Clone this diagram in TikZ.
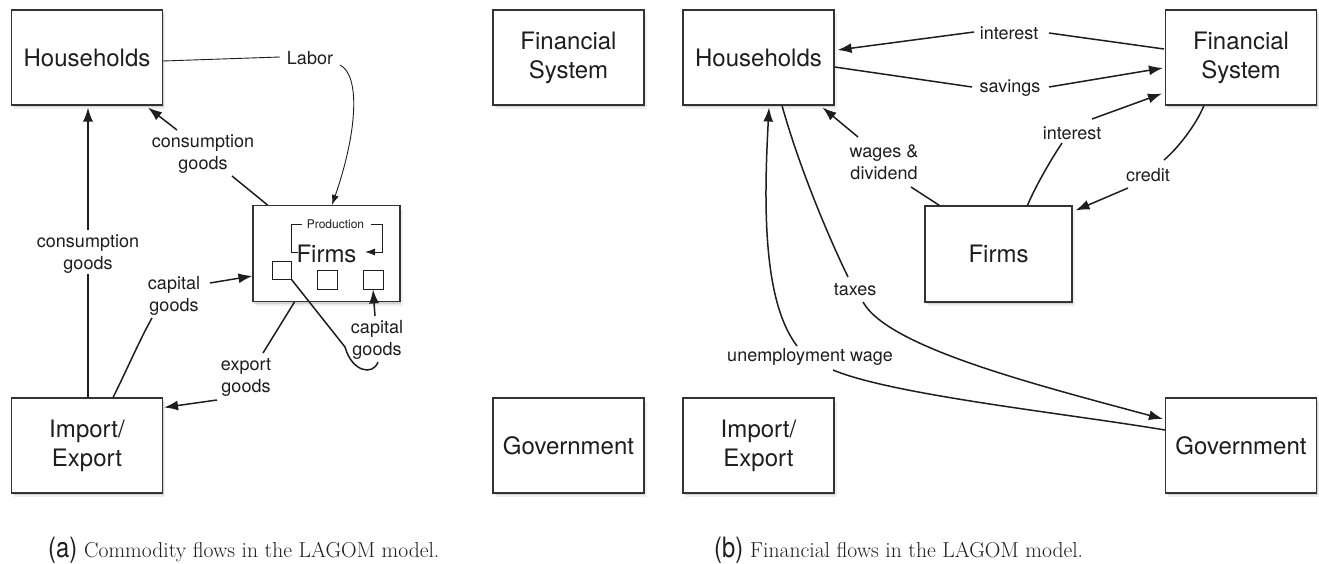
\documentclass[tikz,border=0pt]{standalone}
\usepackage{fontspec}
\newfontfamily\heros{TeX Gyre Heros}
\usetikzlibrary{arrows.meta,calc,shadows}
\definecolor{ink}{HTML}{1E1E1E}
\definecolor{edge}{HTML}{333333}
\tikzset{
  box/.style={draw=edge, line width=1.1pt, fill=white, minimum width=151pt, minimum height=95pt,
    inner sep=0pt, align=center, text=ink, font=\heros\fontsize{24}{29}\selectfont,
    drop shadow={shadow xshift=2.5pt, shadow yshift=-4pt, opacity=0.12},
    drop shadow={shadow xshift=1.2pt, shadow yshift=-2.2pt, opacity=0.25}},
  fbox/.style={box, minimum width=147pt, minimum height=96pt},
  lbl/.style={font=\heros\fontsize{18}{22}\selectfont, align=center, text=ink, inner sep=0pt},
  sq/.style={draw=ink, line width=0.9pt, fill=white, minimum width=19pt, minimum height=18pt, inner sep=0pt},
  wire/.style={draw=ink, line width=1.5pt},
  arr/.style={wire, -{Latex[length=14pt,width=10pt]}},
  thinwire/.style={draw=ink, line width=0.9pt},
  thinarr/.style={thinwire, -{Latex[length=10pt,width=7pt]}},
  capl/.style={anchor=base west, font=\heros\fontsize{28}{30}\selectfont, xscale=0.85, text=ink, inner sep=0pt},
  capt/.style={anchor=base west, font=\fontsize{21.6}{25}\selectfont, text=ink, inner sep=0pt}
}
\begin{document}
\begin{tikzpicture}[x=1pt,y=-1pt]
\useasboundingbox (0,0) rectangle (1319,564);
\fill[white] (0,0) rectangle (1319,564);

% ---------------- panel (a) ----------------
\node[box] (hhA) at (87,57.5) {Households};
\node[box] (fsA) at (568.5,57.5) {Financial\\System};
\node[box] (ieA) at (87,445.5) {Import/\\Export};
\node[box] (govA) at (568.5,445.5) {Government};
\node[fbox] (firmsA) at (326.5,253.5) {Firms};
\node[sq] (sq1) at (281.5,270) {};
\node[sq, minimum width=20pt, minimum height=19pt] (sq2) at (327,279.5) {};
\node[sq, minimum width=20pt, minimum height=19pt] (sq3) at (373,279.5) {};
\node[font=\heros\fontsize{12}{14}\selectfont, text=ink, inner sep=0pt] (prod) at (335.5,224) {Production};

\node[lbl] (labor) at (310,58) {Labor};
\node[lbl] (cg1) at (203,154) {consumption\\goods};
\node[lbl] (cg2) at (88,254) {consumption\\goods};
\node[lbl] (capg1) at (174,296) {capital\\goods};
\node[lbl] (expg) at (246,377) {export\\goods};
\node[lbl] (capg2) at (377,340) {capital\\goods};

% Labor
\draw[thinwire] ($(hhA.east)+(0,3.5)$) -- ($(labor)+(-30,-1)$);
\draw[thinarr] ($(labor)+(30,7)$) .. controls ($(labor)+(50,17)$) and ($(labor)+(48,72)$) .. ($(firmsA.north)+(5.5,0)$);
% consumption goods firms -> households
\draw[wire] ($(firmsA.north west)+(15,0)$) -- ($(cg1)+(29,22)$);
\draw[arr] ($(cg1)+(-26,-24)$) -- ($(hhA.south east)+(-15,2)$);
% consumption goods import -> households
\draw[wire] ($(ieA.north)+(1,0)$) -- ($(cg2)+(0,20)$);
\draw[arr] ($(cg2)+(0,-24)$) -- ($(hhA.south)+(1,2)$);
% capital goods import -> firms
\draw[wire] ($(ieA.north)+(26,0)$) .. controls ($(capg1)+(-51,82)$) and ($(capg1)+(-32,39)$) .. ($(capg1)+(-22,22)$);
\draw[arr] ($(capg1)+(36,-13)$) -- ($(firmsA.north west)+(0,71)$);
% export goods
\draw[wire] ($(firmsA.south west)+(42,0)$) -- ($(expg)+(17,-24)$);
\draw[arr] ($(expg)+(-29,23)$) -- ($(ieA.north east)+(1,10)$);
% capital goods inside firms
\draw[wire] (sq1.south east) -- ($(capg2)+(-32,7)$) .. controls ($(capg2)+(-25,32)$) and ($(capg2)+(-4,36)$) .. ($(capg2)+(1,22)$);
\draw[arr] ($(capg2)+(-2,-24)$) -- (sq3.south);
% production loop
\draw[thinwire] ($(prod)+(-37.5,28)$) -- ($(prod)+(-44.5,28)$) |- ($(prod)+(-33.5,0)$);
\draw[thinarr] ($(prod)+(35.5,0)$) -| ($(prod)+(46.5,28)$) -- ($(prod)+(29.5,28)$);

% ---------------- panel (b) ----------------
\node[box] (hhB) at (758.5,57.5) {Households};
\node[box] (fsB) at (1241,57.5) {Financial\\System};
\node[fbox] (firmsB) at (998.5,254) {Firms};
\node[box] (ieB) at (758.5,445.5) {Import/\\Export};
\node[box] (govB) at (1241,445.5) {Government};

\node[lbl] (intB1) at (1009,33) {interest};
\node[lbl] (savB) at (1010,88) {savings};
\node[lbl] (intB2) at (1072,133) {interest};
\node[lbl] (credB) at (1148,175) {credit};
\node[lbl] (wdB) at (884,162) {wages \&\\dividend};
\node[lbl] (taxB) at (855,290) {taxes};
\node[lbl] (uwB) at (810,357) {unemployment wage};

% interest FS -> households
\draw[wire] ($(fsB.west)+(-1,-8.5)$) -- ($(intB1)+(40,0)$);
\draw[arr] ($(intB1)+(-35,-1)$) -- ($(hhB.east)+(3,-7.5)$);
% savings
\draw[wire] ($(hhB.east)+(0,9.5)$) -- ($(savB)+(-38,-1)$);
\draw[arr] ($(savB)+(39,-1)$) -- ($(fsB.west)+(-2,10.5)$);
% interest firms -> FS
\draw[wire] ($(firmsB.north west)+(103,0)$) .. controls ($(intB2)+(-36,52)$) and ($(intB2)+(-20,25)$) .. ($(intB2)+(-10,10)$);
\draw[arr] ($(intB2)+(20,-14)$) -- ($(fsB.south west)+(-3,-12)$);
% credit
\draw[wire] ($(fsB.south west)+(39,0)$) .. controls ($(credB)+(48,-50)$) and ($(credB)+(30,-27)$) .. ($(credB)+(16,-15)$);
\draw[arr] ($(credB)+(-20,13)$) -- ($(firmsB.north east)+(3,5)$);
% wages & dividend
\draw[wire] ($(firmsB.north west)+(15,0)$) -- ($(wdB)+(27,25)$);
\draw[arr] ($(wdB)+(-26,-25)$) -- ($(hhB.south east)+(-12,2)$);
% taxes
\draw[wire] ($(hhB.south)+(23.5,0)$) .. controls ($(taxB)+(-55,-120)$) and ($(taxB)+(-25,-50)$) .. ($(taxB)+(-7,-13)$);
\draw[arr] ($(taxB)+(8,12)$) .. controls ($(taxB)+(33,57)$) and ($(govB.west)+(-132,-61.5)$) .. ($(govB.west)+(-2,-26.5)$);
% unemployment wage
\draw[wire] ($(govB.west)+(0,-15.5)$) .. controls ($(govB.west)+(-102,-32.5)$) and ($(uwB)+(83,38)$) .. ($(uwB)+(23,13)$);
\draw[arr] ($(uwB)+(-13,-11)$) .. controls ($(uwB)+(-48,-57)$) and ($(hhB.south)+(5.5,95)$) .. ($(hhB.south)+(10.5,2)$);

% ---------------- captions ----------------
\node[capl] (capAl) at (48,557) {(a)};
\node[capt] (capAt) at (84,557) {Commodity flows in the LAGOM model.};
\node[capl] (capBl) at (714,557) {(b)};
\node[capt] (capBt) at (750,557) {Financial flows in the LAGOM model.};
\end{tikzpicture}
\end{document}
